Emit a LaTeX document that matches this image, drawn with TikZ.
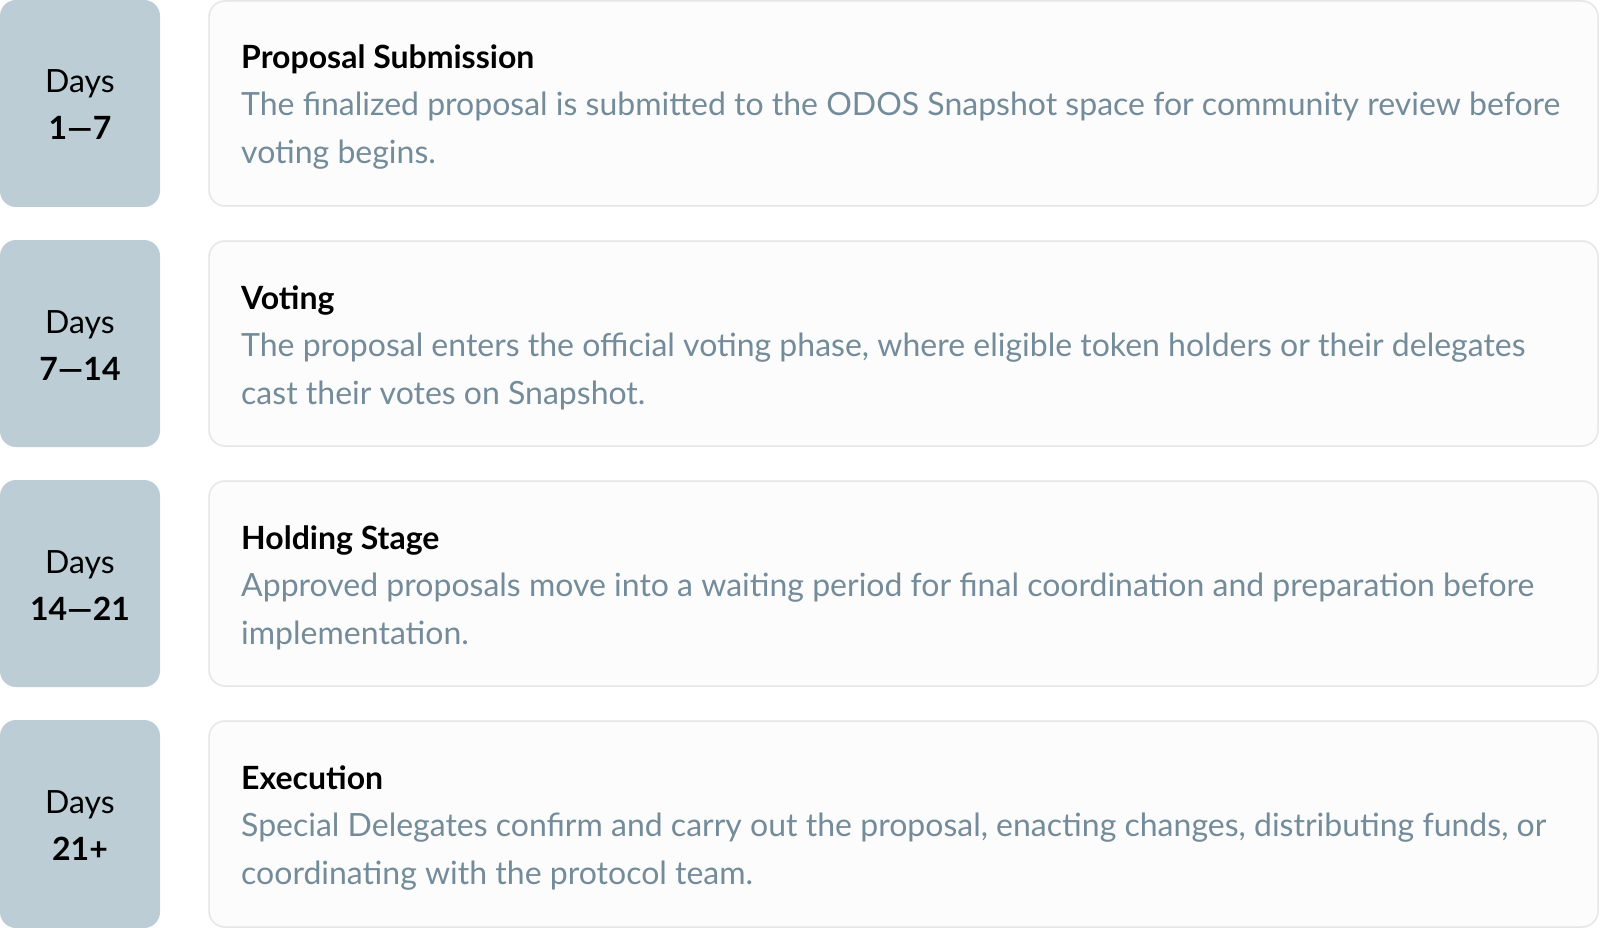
\documentclass[tikz,border=0pt]{standalone}
\usepackage{fontspec}
\setmainfont{Lato}
\definecolor{dayfill}{HTML}{BDCDD6}
\definecolor{desc}{HTML}{748C9A}
\definecolor{cardfill}{HTML}{FCFCFC}
\definecolor{cardline}{HTML}{E6E6E6}
\tikzset{
  daybox/.style={fill=dayfill, rounded corners=16pt},
  card/.style={fill=cardfill, draw=cardline, line width=1.5pt, rounded corners=16pt},
  daytxt/.style={anchor=base, inner sep=0pt, font=\fontsize{32}{38}\selectfont, text=black},
  daynum/.style={daytxt, font=\fontsize{32}{38}\selectfont\bfseries},
  title/.style={anchor=base west, inner sep=0pt, font=\fontsize{32}{38}\selectfont\bfseries, text=black},
  desctxt/.style={anchor=base west, inner sep=0pt, font=\fontsize{32}{38}\selectfont, text=desc}
}
\begin{document}
\begin{tikzpicture}[x=1pt,y=-1pt]
\useasboundingbox (0,0) rectangle (1600,928);
\fill[white] (0,0) rectangle (1600,928);
% row 1
\begin{scope}[yshift=0pt]
\fill[daybox] (0,0) rectangle (160,207);
\draw[card] (209,1) rectangle (1598,206);
\node[daytxt] (d1a) at (80,93) {Days};
\node[daynum] (d1b) at (80,140) {1—7};
\node[title] (t1) at (241,69) {Proposal Submission};
\node[desctxt] (p1a) at (241,116) {The finalized proposal is submitted to the ODOS Snapshot space for community review before};
\node[desctxt] (p1b) at (241,164) {voting begins.};
\end{scope}
% row 2
\begin{scope}[yshift=-240pt]
\fill[daybox] (0,0) rectangle (160,207);
\draw[card] (209,1) rectangle (1598,206);
\node[daytxt] (d2a) at (80,93) {Days};
\node[daynum] (d2b) at (80,140) {7—14};
\node[title] (t2) at (241,69) {Voting};
\node[desctxt] (p2a) at (241,116) {The proposal enters the official voting phase, where eligible token holders or their delegates};
\node[desctxt] (p2b) at (241,164) {cast their votes on Snapshot.};
\end{scope}
% row 3
\begin{scope}[yshift=-480pt]
\fill[daybox] (0,0) rectangle (160,207);
\draw[card] (209,1) rectangle (1598,206);
\node[daytxt] (d3a) at (80,93) {Days};
\node[daynum] (d3b) at (80,140) {14—21};
\node[title] (t3) at (241,69) {Holding Stage};
\node[desctxt] (p3a) at (241,116) {Approved proposals move into a waiting period for final coordination and preparation before};
\node[desctxt] (p3b) at (241,164) {implementation.};
\end{scope}
% row 4
\begin{scope}[yshift=-720pt]
\fill[daybox] (0,0) rectangle (160,208);
\draw[card] (209,1) rectangle (1598,207);
\node[daytxt] (d4a) at (80,93) {Days};
\node[daynum] (d4b) at (80,140) {21+};
\node[title] (t4) at (241,69) {Execution};
\node[desctxt] (p4a) at (241,116) {Special Delegates confirm and carry out the proposal, enacting changes, distributing funds, or};
\node[desctxt] (p4b) at (241,164) {coordinating with the protocol team.};
\end{scope}
\end{tikzpicture}
\end{document}
